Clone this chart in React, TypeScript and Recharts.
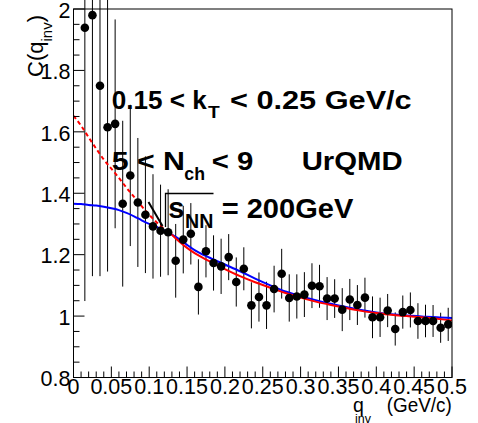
import React from 'react';
import { ComposedChart, XAxis, YAxis, Scatter, ErrorBar, Line } from 'recharts';

// measured bins of the correlation function
const qBins = [
  0.015, 0.025, 0.035, 0.045, 0.055, 0.065, 0.075, 0.085, 0.095, 0.105,
  0.115, 0.125, 0.135, 0.145, 0.155, 0.165, 0.175, 0.185, 0.195, 0.205,
  0.215, 0.225, 0.235, 0.245, 0.255, 0.265, 0.275, 0.285, 0.295, 0.305,
  0.315, 0.325, 0.335, 0.345, 0.355, 0.365, 0.375, 0.385, 0.395, 0.405,
  0.415, 0.425, 0.435, 0.445, 0.455, 0.465, 0.475, 0.485, 0.495,
];
const cValues = [
  1.939, 1.98, 1.75, 1.615, 1.626, 1.366, 1.458, 1.37, 1.33, 1.292,
  1.278, 1.273, 1.18, 1.249, 1.268, 1.095, 1.211, 1.173, 1.162, 1.192,
  1.111, 1.154, 1.035, 1.062, 1.035, 1.088, 1.138, 1.059, 1.064, 1.07,
  1.099, 1.097, 1.057, 1.057, 1.021, 1.054, 1.036, 1.06, 0.996, 0.996,
  1.018, 0.958, 1.013, 1.02, 0.984, 0.984, 0.984, 0.962, 0.973,
];
const cErrors = [
  0.89, 0.85, 0.62, 0.47, 0.34, 0.27, 0.23, 0.21, 0.19, 0.17,
  0.15, 0.14, 0.12, 0.11, 0.1, 0.09, 0.085, 0.09, 0.09, 0.075,
  0.08, 0.07, 0.075, 0.08, 0.077, 0.076, 0.081, 0.077, 0.072, 0.073,
  0.073, 0.07, 0.07, 0.063, 0.07, 0.067, 0.065, 0.065, 0.068, 0.064,
  0.054, 0.054, 0.054, 0.057, 0.058, 0.053, 0.052, 0.049, 0.054,
];

// fit curves
const fitQ = [
  0, 0.01, 0.02, 0.03, 0.04, 0.05, 0.06, 0.07, 0.08, 0.09, 0.1, 0.11, 0.12, 0.13,
  0.14, 0.15, 0.16, 0.18, 0.2, 0.22, 0.24, 0.26, 0.28, 0.3, 0.32, 0.34, 0.36,
  0.38, 0.4, 0.42, 0.44, 0.46, 0.48, 0.5,
];
const redFit = [
  1.652, 1.62, 1.582, 1.545, 1.51, 1.48, 1.45, 1.418, 1.388, 1.358, 1.33, 1.305, 1.283, 1.265,
  1.242, 1.222, 1.205, 1.178, 1.153, 1.13, 1.11, 1.092, 1.075, 1.06, 1.047, 1.036, 1.026,
  1.017, 1.01, 1.004, 1.0, 0.996, 0.991, 0.986,
];
const blueFit = [
  1.366, 1.365, 1.362, 1.36, 1.356, 1.351, 1.345, 1.336, 1.325, 1.312, 1.3, 1.29, 1.279, 1.265,
  1.25, 1.232, 1.215, 1.19, 1.168, 1.146, 1.122, 1.1, 1.08, 1.065, 1.052, 1.04, 1.03,
  1.02, 1.012, 1.006, 1.002, 0.999, 0.996, 0.994,
];
const fitRangeStart = 0.13;

// axes
const xMajorTicks = [0, 0.05, 0.1, 0.15, 0.2, 0.25, 0.3, 0.35, 0.4, 0.45, 0.5];
const xTickLabels = ['0', '0.05', '0.1', '0.15', '0.2', '0.25', '0.3', '0.35', '0.4', '0.45', '0.5'];
const yMajorTicks = [0.8, 1, 1.2, 1.4, 1.6, 1.8, 2];
const yTickLabels = ['0.8', '1', '1.2', '1.4', '1.6', '1.8', '2'];
const xTicks = Array.from({ length: 51 }, (_, i) => +(i * 0.01).toFixed(2));
const yTicks = Array.from({ length: 25 }, (_, i) => +(0.8 + i * 0.05).toFixed(2));

const points = qBins.map((q, i) => ({ q, c: cValues[i], err: cErrors[i] }));
const redRows = fitQ.map((q, i) => ({ q, c: redFit[i] }));
const blueRows = fitQ.map((q, i) => ({ q, c: blueFit[i] }));
const redDashed = redRows.filter((r) => r.q <= fitRangeStart);
const redSolid = redRows.filter((r) => r.q >= fitRangeStart);

const W = 478;
const H = 423;
const PLOT = { left: 73.5, right: 452, top: 9, bottom: 377.5 };
const FONT = '"Liberation Sans", Arial, Helvetica, sans-serif';
const TICK_FONT = 21.5;

const findIndex = (list: number[], v: number) => list.findIndex((t) => Math.abs(t - v) < 1e-6);

const XTick = (props: any) => {
  const { x, y, payload } = props;
  const idx = findIndex(xMajorTicks, payload.value);
  const major = idx >= 0;
  return (
    <g>
      <line x1={x} x2={x} y1={y} y2={y - (major ? 11 : 6)} stroke="#000" strokeWidth={1} />
      {major && (
        <text x={x} y={y + 16} textAnchor="middle" fontSize={TICK_FONT} fontFamily={FONT} fill="#000">
          {xTickLabels[idx]}
        </text>
      )}
    </g>
  );
};

const YTick = (props: any) => {
  const { x, y, payload } = props;
  const idx = findIndex(yMajorTicks, payload.value);
  const major = idx >= 0;
  return (
    <g>
      <line x1={x} x2={x + (major ? 11 : 6)} y1={y} y2={y} stroke="#000" strokeWidth={1} />
      {major && (
        <text x={x - 3} y={y + 1} dy="0.36em" textAnchor="end" fontSize={TICK_FONT} fontFamily={FONT} fill="#000">
          {yTickLabels[idx]}
        </text>
      )}
    </g>
  );
};

const Dot = (props: any) => <circle cx={props.cx} cy={props.cy} r={4.3} fill="#000" />;

export default function App() {
  return (
    <div style={{ position: 'absolute', left: 0, top: 0, width: W, height: H, background: '#fff' }}>
      <ComposedChart
        width={W}
        height={H}
        margin={{ top: PLOT.top, right: W - PLOT.right, bottom: 0, left: 0 }}
      >
        <XAxis
          type="number"
          dataKey="q"
          domain={[0, 0.5]}
          ticks={xTicks}
          interval={0}
          tickSize={0}
          tickMargin={0}
          tick={(p: any) => <XTick {...p} />}
          height={H - PLOT.bottom}
          axisLine={{ stroke: '#000' }}
          allowDataOverflow
        />
        <YAxis
          type="number"
          domain={[0.8, 2]}
          ticks={yTicks}
          interval={0}
          tickSize={0}
          tickMargin={0}
          tick={(p: any) => <YTick {...p} />}
          width={PLOT.left}
          axisLine={{ stroke: '#000' }}
          allowDataOverflow
        />
        <Scatter data={points} dataKey="c" shape={<Dot />} isAnimationActive={false}>
          <ErrorBar dataKey="err" direction="y" width={0} stroke="#000" strokeWidth={1} isAnimationActive={false} />
        </Scatter>
        <Line data={blueRows} dataKey="c" type="monotone" stroke="#0000ff" strokeWidth={2} dot={false} activeDot={false} isAnimationActive={false} />
        <Line data={redDashed} dataKey="c" type="monotone" stroke="#ff0000" strokeWidth={2} strokeDasharray="4 3" dot={false} activeDot={false} isAnimationActive={false} />
        <Line data={redSolid} dataKey="c" type="monotone" stroke="#ff0000" strokeWidth={2} dot={false} activeDot={false} isAnimationActive={false} />
      </ComposedChart>

      <svg width={W} height={H} style={{ position: 'absolute', left: 0, top: 0, pointerEvents: 'none' }}>
        <rect
          x={PLOT.left}
          y={PLOT.top}
          width={PLOT.right - PLOT.left}
          height={PLOT.bottom - PLOT.top}
          fill="none"
          stroke="#000"
          strokeWidth={1}
        />
        <g fontFamily={FONT} fontWeight="bold" fill="#000">
          <text x={111.7} y={108.5} fontSize={26} textLength={95} lengthAdjust="spacingAndGlyphs">0.15 &lt; k</text>
          <text x={208} y={117.5} fontSize={16} textLength={11.7} lengthAdjust="spacingAndGlyphs">T</text>
          <text x={230} y={108.5} fontSize={26} textLength={181.7} lengthAdjust="spacingAndGlyphs">&lt; 0.25 GeV/c</text>

          <text x={111.7} y={169.5} fontSize={26} textLength={73.3} lengthAdjust="spacingAndGlyphs">5 &lt; N</text>
          <text x={184.3} y={180} fontSize={19} textLength={20.7} lengthAdjust="spacingAndGlyphs">ch</text>
          <text x={211.7} y={169.5} fontSize={26} textLength={41.6} lengthAdjust="spacingAndGlyphs">&lt; 9</text>
          <text x={301.7} y={169.5} fontSize={26} textLength={101} lengthAdjust="spacingAndGlyphs">UrQMD</text>

          <path d="M148.5 202 L162.5 226" fill="none" stroke="#000" strokeWidth={2} />
          <path d="M165.5 227 L165.5 193.5 L213.5 193.5" fill="none" stroke="#000" strokeWidth={1.3} />
          <text x={168.3} y={218.3} fontSize={29}>s</text>
          <text x={185} y={228.3} fontSize={20} textLength={28.3} lengthAdjust="spacingAndGlyphs">NN</text>
          <text x={221.7} y={218.3} fontSize={27.5} textLength={131.6} lengthAdjust="spacingAndGlyphs">= 200GeV</text>
        </g>
        <g fontFamily={FONT} fill="#000">
          <text x={353} y={411.5} fontSize={19.5}>q</text>
          <text x={355} y={422.5} fontSize={12.5}>inv</text>
          <text x={386.7} y={412} fontSize={19.5} textLength={65} lengthAdjust="spacingAndGlyphs">(GeV/c)</text>
          <text transform="rotate(-90)" x={-77} y={43} fontSize={22}>
            C(q<tspan fontSize={15} dy={9}>inv</tspan>
            <tspan dy={-9}>)</tspan>
          </text>
        </g>
      </svg>
    </div>
  );
}
